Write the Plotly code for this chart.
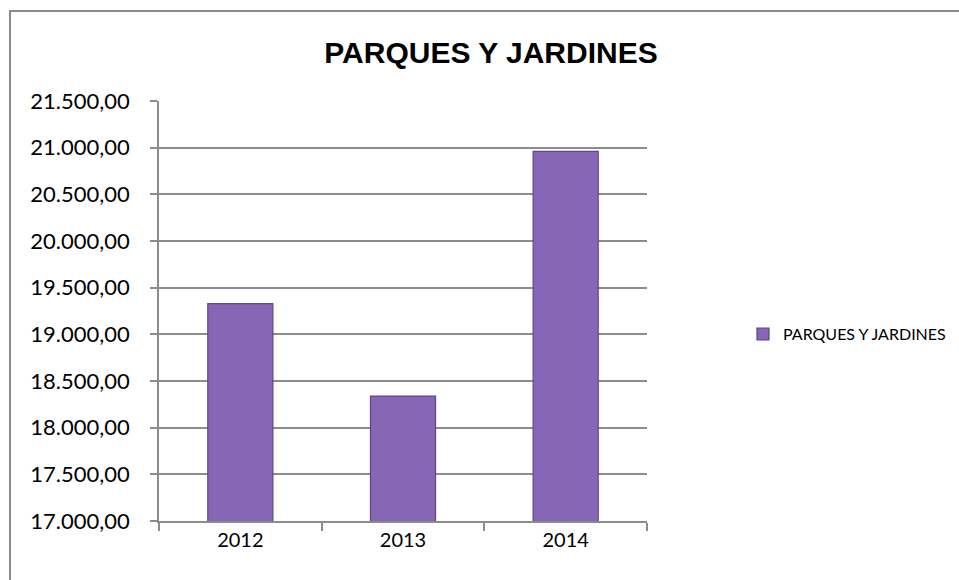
import plotly.graph_objects as go

years = ["2012", "2013", "2014"]
values = [19330, 18338, 20961]
series_name = "PARQUES Y JARDINES"
title_text = "PARQUES Y JARDINES"

fig = go.Figure()
fig.add_trace(go.Bar(
    x=years, y=values, name=series_name,
    marker=dict(color="#8766b6", line=dict(color="#5f448a", width=1.2)),
    width=0.4, showlegend=True,
))

grid = "#8c8c8c"
L, R, T, B = 159, 312, 101, 59
fig.update_layout(
    width=959, height=580,
    margin=dict(l=L, r=R, t=T, b=B, autoexpand=False),
    paper_bgcolor="white", plot_bgcolor="white",
    separators=",.",
    font=dict(family="Lato, 'Open Sans', sans-serif", size=21, color="#000000"),
    title=dict(text="<b>" + title_text + "</b>", x=0.512, xanchor="center",
               y=0.91, yanchor="middle",
               font=dict(family="Liberation Sans, Arial, sans-serif", size=30, color="#000")),
    showlegend=True,
    legend=dict(x=(743 - L) / (959 - L - R), y=0.445, xanchor="left", yanchor="middle",
                font=dict(size=16), itemwidth=30, bgcolor="rgba(0,0,0,0)"),
    bargap=0.6,
    xaxis=dict(showline=True, linecolor=grid, linewidth=1.5, ticks="outside",
               tickson="boundaries", ticklen=8, tickcolor=grid, tickwidth=1.5,
               showgrid=False, tickfont=dict(size=20)),
    yaxis=dict(range=[17000, 21500], dtick=500, tick0=17000, tickformat=",.2f",
               showline=True, linecolor=grid, linewidth=1.5, ticks="outside",
               ticklen=7, tickcolor=grid, tickwidth=1.5,
               showgrid=True, gridcolor=grid, gridwidth=1.5, zeroline=False,
               tickfont=dict(size=22), ticklabelstandoff=16),
    shapes=[dict(type="rect", xref="paper", yref="paper",
                 x0=(10 - L) / (959 - L - R), x1=1.8, y0=-0.3,
                 y1=(580 - B - 11) / (580 - T - B),
                 line=dict(color="#8c8c8c", width=2), fillcolor="rgba(0,0,0,0)",
                 layer="below")],
)
fig.write_html("out.html", post_script="document.body.style.margin='0';",
               config={"displayModeBar": False})
